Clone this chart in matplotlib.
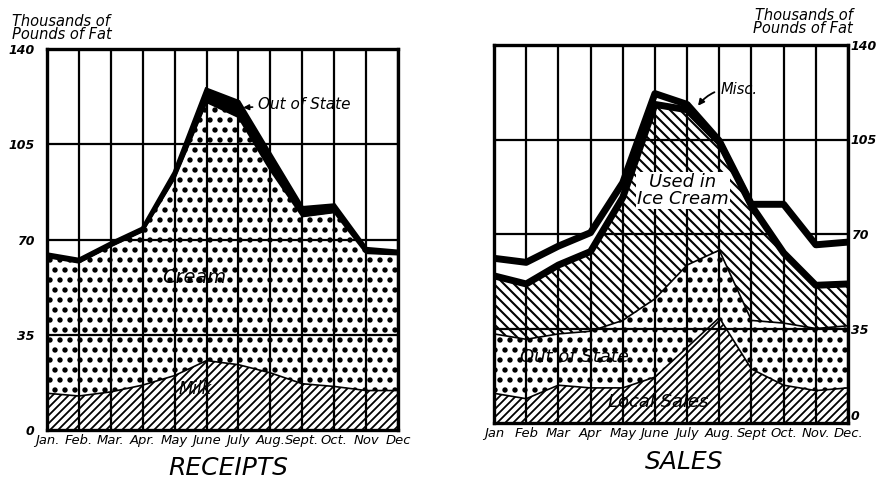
import matplotlib
matplotlib.use("Agg")
import matplotlib.pyplot as plt
import matplotlib.hatch as mhatch
import numpy as np

DPI = 120
K = 100.0 / DPI          # keeps point sizes equal in pixels to a 100-dpi layout

plt.rcParams['font.family'] = ['Liberation Sans Narrow', 'DejaVu Sans']
plt.rcParams['hatch.linewidth'] = 1.3 * K
plt.rcParams['hatch.color'] = 'black'
mhatch.SmallFilledCircles.size = 0.17   # larger printed dots

# ---------------- data (thousands of pounds of fat) ----------------
months_receipts = ["Jan.", "Feb.", "Mar.", "Apr.", "May", "June", "July",
                   "Aug.", "Sept.", "Oct.", "Nov", "Dec"]
months_sales = ["Jan", "Feb", "Mar", "Apr", "May", "June", "July",
                "Aug.", "Sept", "Oct.", "Nov.", "Dec."]
y_ticks = [0, 35, 70, 105, 140]

# RECEIPTS
receipts_milk = [13.5, 12.5, 14, 16.5, 20, 25.5, 24, 21, 17, 16, 14.5, 14.5]
receipts_cream = [50, 49, 53.5, 56.5, 72.5, 95, 91, 74.5, 61.5, 64, 50.5, 50]
receipts_out_of_state = [1, 1, 1, 1, 2, 4.5, 5.5, 5.5, 3, 2.5, 1.5, 1]

# SALES
sales_local = [11, 9, 14, 13, 13, 17, 28, 39, 20, 14, 12, 13]
sales_out_of_state = [22, 22, 19, 21, 25, 29, 30.5, 25, 18, 23, 23, 23]
sales_ice_cream = [21.5, 20.5, 25.5, 29.5, 45.5, 72, 57.5, 40, 42.5, 26, 16, 15.5]
sales_misc = [6.5, 8, 7, 7, 5.5, 4, 2, 0.5, 0.5, 18, 15, 15.5]

# ---------------- figure ----------------
fig = plt.figure(figsize=(877 / DPI, 479 / DPI), dpi=DPI)
ax1 = fig.add_axes([47/877, 1-430/479, 351/877, 381/479])
ax2 = fig.add_axes([494/877, 1-423/479, 354/877, 378/479])

ital = dict(style='italic')


def hatch_lw(coll, lw):
    if hasattr(coll, 'set_hatch_linewidth'):
        try:
            coll.set_hatch_linewidth(lw * K)
        except Exception:
            pass


def frame(ax, labels):
    n = len(labels)
    x = np.arange(n)
    ax.set_xlim(0, n - 1)
    ax.set_ylim(0, 140)
    for i in x:
        ax.axvline(i, color='black', lw=1.6 * K, zorder=2)
    for yv in y_ticks[1:-1]:
        ax.axhline(yv, color='black', lw=1.6 * K, zorder=2)
    for s in ax.spines.values():
        s.set_linewidth(2.4 * K)
        s.set_zorder(10)
    ax.set_xticks(x)
    ax.set_xticklabels(labels, fontsize=9.5 * K, **ital)
    ax.set_yticks(y_ticks)
    ax.set_yticklabels([str(v) for v in y_ticks], fontsize=9 * K,
                       fontweight='bold', **ital)
    ax.tick_params(length=0, pad=3 * K)
    return x


# ---------------- RECEIPTS ----------------
x = frame(ax1, months_receipts)
milk = np.array(receipts_milk)
cream_top = milk + np.array(receipts_cream)
total = cream_top + np.array(receipts_out_of_state)

c = ax1.fill_between(x, 0, milk, facecolor='white', edgecolor='black',
                     hatch='/////', lw=0, zorder=1)
hatch_lw(c, 1.3)
c = ax1.fill_between(x, milk, cream_top, facecolor='white', edgecolor='black',
                     hatch='..', lw=0, zorder=1)
hatch_lw(c, 1.4)
ax1.fill_between(x, cream_top, total, color='black', lw=0, zorder=3)
ax1.plot(x, milk, color='black', lw=1.2 * K, zorder=3)
ax1.plot(x, cream_top, color='black', lw=1.5 * K, zorder=3)
ax1.plot(x, total, color='black', lw=3.2 * K, zorder=4, solid_joinstyle='miter')
ax1.tick_params(axis='y', pad=9 * K)

ax1.annotate("Out of State", xy=(6.15, 118.5), xytext=(6.6, 119.5),
             fontsize=11 * K, va='center', ha='left', **ital,
             arrowprops=dict(arrowstyle='-|>', color='black', lw=1.2 * K,
                             mutation_scale=8 * K, shrinkA=1, shrinkB=0))
ax1.text(4.6, 56, "Cream", fontsize=14 * K, ha='center', va='center', **ital,
         zorder=6)
ax1.text(4.65, 15, "Milk", fontsize=12 * K, ha='center', va='center', **ital,
         zorder=6)
fig.text(12/877, 1-28/479, "Thousands of\nPounds of Fat", fontsize=10.5 * K,
         ha='left', va='center', linespacing=0.9, **ital)
fig.text(228/877, 1-468/479, "RECEIPTS", fontsize=18 * K, ha='center',
         va='center', **ital)

# ---------------- SALES ----------------
x = frame(ax2, months_sales)
ax2.yaxis.tick_right()
ax2.tick_params(axis='y', pad=2 * K)
for lab in ax2.get_yticklabels():
    if lab.get_text() == '0':
        lab.set_va('bottom')
local = np.array(sales_local)
oos_top = local + np.array(sales_out_of_state)
ice_top = oos_top + np.array(sales_ice_cream)
tot2 = ice_top + np.array(sales_misc)

c = ax2.fill_between(x, 0, local, facecolor='white', edgecolor='black',
                     hatch='/////', lw=0, zorder=1)
hatch_lw(c, 1.3)
c = ax2.fill_between(x, oos_top, ice_top, facecolor='white', edgecolor='black',
                     hatch='\\\\\\\\', lw=0, zorder=1)
hatch_lw(c, 1.5)
c = ax2.fill_between(x, local, oos_top, facecolor='white', edgecolor='black',
                     hatch='..', lw=0, zorder=1)
hatch_lw(c, 1.4)
ax2.fill_between(x, ice_top, tot2, facecolor='white', lw=0, zorder=3)
ax2.plot(x, local, color='black', lw=1.2 * K, zorder=3)
ax2.plot(x, oos_top, color='black', lw=1.2 * K, zorder=3)
ax2.plot(x, ice_top, color='black', lw=5 * K, zorder=4)
ax2.plot(x, tot2, color='black', lw=5 * K, zorder=4)

ax2.annotate("Misc.", xy=(6.34, 117.5), xytext=(7.05, 123.5),
             fontsize=10.5 * K, va='center', ha='left', **ital,
             arrowprops=dict(arrowstyle='-|>', color='black', lw=1.3 * K,
                             mutation_scale=9 * K, shrinkA=2, shrinkB=0,
                             connectionstyle='arc3,rad=0.3'))
ax2.text(5.87, 86, "Used in\nIce Cream", fontsize=13 * K, ha='center',
         va='center', linespacing=0.95, zorder=6, **ital,
         bbox=dict(facecolor='white', edgecolor='none', pad=0.5))
ax2.text(2.5, 24.5, "Out of State", fontsize=13 * K, ha='center', va='center',
         zorder=6, **ital)
ax2.text(5.1, 7.8, "Local Sales", fontsize=13 * K, ha='center', va='center',
         zorder=6, **ital)
fig.text(853/877, 1-22/479, "Thousands of\nPounds of Fat", fontsize=10.5 * K,
         ha='right', va='center', linespacing=0.9, **ital)
fig.text(684/877, 1-462/479, "SALES", fontsize=18 * K, ha='center',
         va='center', **ital)

fig.savefig("out.png", dpi=DPI)
